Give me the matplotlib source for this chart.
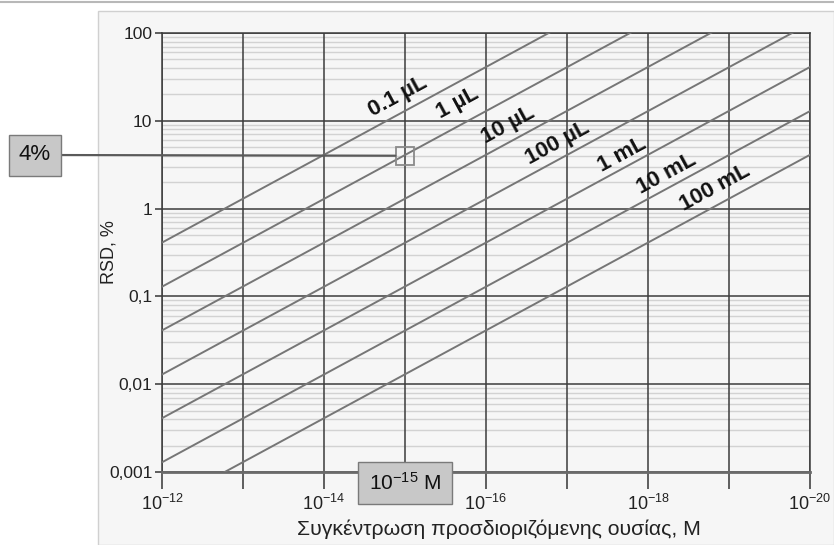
import numpy as np
import matplotlib
matplotlib.use('Agg')
import matplotlib.pyplot as plt
from matplotlib.ticker import FixedLocator, FuncFormatter, LogLocator, NullLocator
from matplotlib.patches import Rectangle
from matplotlib.lines import Line2D
import matplotlib.transforms as mtransforms

plt.rcParams['font.family'] = ['Liberation Sans', 'DejaVu Sans']
plt.rcParams['mathtext.fontset'] = 'custom'
plt.rcParams['mathtext.rm'] = 'Liberation Sans'
plt.rcParams['mathtext.it'] = 'Liberation Sans'

# RSD (%) vs analyte concentration for different sample volumes
volumes = ['0.1 µL', '1 µL', '10 µL', '100 µL', '1 mL', '10 mL', '100 mL']
conc_ends = [1e-12, 1e-20]                       # M, left and right edge of the chart
rsd_left = [0.41, 0.129, 0.041, 0.0129, 0.0041, 0.00129, 0.00041]
rsd_right = [4100, 1290, 410, 129, 41, 12.9, 4.1]

# label anchor positions (concentration, RSD)
label_x = [10**-14.91, 10**-15.65, 10**-16.27, 10**-16.88, 10**-17.68, 10**-18.23, 10**-18.83]
label_y = [18.7, 16.0, 9.0, 5.6, 4.1, 2.5, 1.7]

x_ticks = [10.0**e for e in range(-12, -21, -1)]
y_ticks = [0.001, 0.01, 0.1, 1, 10, 100]
y_ticklabels = ['0,001', '0,01', '0,1', '1', '10', '100']

marker_conc = 1e-15
marker_rsd = 4

fig = plt.figure(figsize=(8.34, 5.45), dpi=100)
fig.patch.set_facecolor('white')

# light panel behind the chart and thin rule across the top
fig.patches.append(Rectangle((98 / 834, 0), 1 - 98 / 834, 1 - 11 / 545,
                             transform=fig.transFigure, facecolor='#f6f6f6',
                             edgecolor='#d0d0d0', lw=1, zorder=-2))
fig.lines.append(Line2D([0, 1], [1 - 1.5 / 545] * 2, transform=fig.transFigure,
                        color='#b8b8b8', lw=1.5, zorder=-1))

ax = fig.add_axes([162 / 834, 73 / 545, 648 / 834, 439 / 545])
ax.set_facecolor('#f6f6f6')
ax.set_xscale('log')
ax.set_yscale('log')
ax.set_xlim(1e-12, 1e-20)
ax.set_ylim(0.001, 100)

for v, l, r in zip(volumes, rsd_left, rsd_right):
    ax.plot(conc_ends, [l, r], color='#767676', lw=1.4, zorder=3)

for v, lx, ly in zip(volumes, label_x, label_y):
    ax.text(lx, ly, v, rotation=28.5, rotation_mode='anchor', ha='center', va='center',
            fontsize=16, fontweight='bold', color='#111111', zorder=4)

# ticks and grid
ax.xaxis.set_major_locator(FixedLocator(x_ticks))
ax.xaxis.set_minor_locator(NullLocator())
ax.xaxis.set_major_formatter(FuncFormatter(
    lambda v, p: r'$10^{%d}$' % round(np.log10(v)) if round(np.log10(v)) % 2 == 0 else ''))
ax.set_yticks(y_ticks)
ax.set_yticklabels(y_ticklabels)
ax.yaxis.set_minor_locator(LogLocator(base=10, subs=np.arange(2, 10)))

ax.tick_params(axis='x', which='major', length=12, width=1.2, color='#444444',
               direction='out', labelsize=13, pad=4, labelcolor='#222222')
ax.tick_params(axis='y', which='major', length=5, width=1.2, color='#444444',
               direction='out', labelsize=12.5, pad=2, labelcolor='#222222')
ax.tick_params(axis='y', which='minor', length=0)

# light minor lines first, dark decade grid on top of them
minor_y = [t for t in ax.yaxis.get_minorticklocs() if 0.001 < t < 100]
ax.hlines(minor_y, 1e-12, 1e-20, color='#d2d2d2', lw=1, zorder=0.3)
ax.grid(which='major', color='#3c3c3c', lw=1.1)
ax.set_axisbelow(True)

for s in ['top', 'right', 'left']:
    ax.spines[s].set_color('#3c3c3c')
    ax.spines[s].set_linewidth(1.1)
ax.spines['bottom'].set_color('#6a6a6a')
ax.spines['bottom'].set_linewidth(2)

ax.set_ylabel('RSD, %', fontsize=13, color='#222222')
ax.yaxis.set_label_coords(-0.068, 0.5)
ax.set_xlabel('Συγκέντρωση προσδιοριζόμενης ουσίας, M', fontsize=15.3,
              color='#222222', va='center')
ax.xaxis.set_label_coords(0.52, -0.13)

# highlighted point: 4% at 10^-15 M
ax.plot([marker_conc], [marker_rsd], marker='s', ms=13.5, mfc='none', mec='#8a8a8a',
        mew=1.3, zorder=5, clip_on=False)
ax.annotate('4%', xy=(marker_conc, marker_rsd), xycoords='data',
            xytext=(35, 545 - 155), textcoords='figure pixels',
            ha='center', va='center', fontsize=16, color='#111111',
            bbox=dict(boxstyle='square,pad=0.45', fc='#c8c8c8', ec='#7a7a7a', lw=1),
            arrowprops=dict(arrowstyle='-', color='#5a5a5a', lw=1.6,
                            shrinkA=0, shrinkB=7), zorder=6)

trans = mtransforms.blended_transform_factory(ax.transData, ax.transAxes)
ax.text(marker_conc, -0.025, r'$10^{-15}$ M', transform=trans, ha='center', va='center',
        fontsize=15, color='#111111', zorder=6, clip_on=False,
        bbox=dict(boxstyle='square,pad=0.5', fc='#c8c8c8', ec='#7a7a7a', lw=1))

fig.savefig('out.png', dpi=100)
